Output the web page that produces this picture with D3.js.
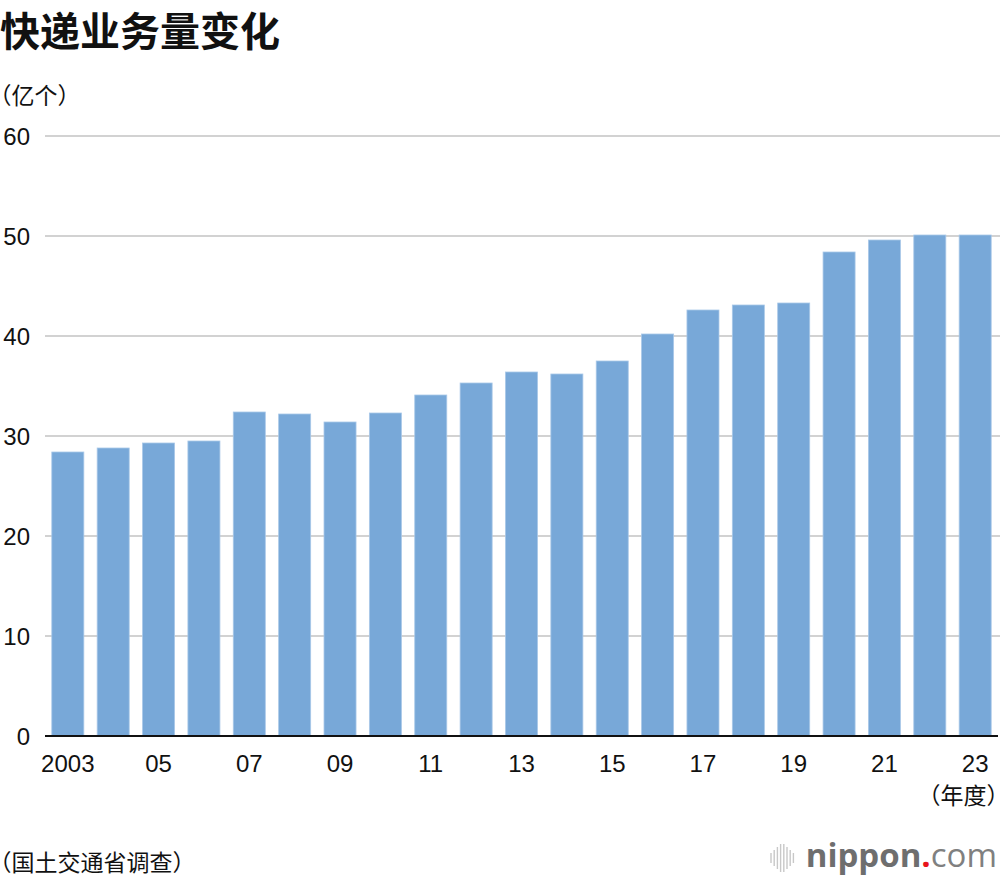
<!DOCTYPE html>
<html><head><meta charset="utf-8">
<script src="https://cdn.jsdelivr.net/npm/d3@7"></script>
<style>
body{margin:0;background:#fff;}
svg{display:block;}
.cj{font-family:'Noto Sans CJK SC', sans-serif;font-feature-settings:"halt" 1;}
</style></head>
<body>
<svg id="chart" width="1000" height="880"></svg>
<script>
const years = [2003,2004,2005,2006,2007,2008,2009,2010,2011,2012,2013,2014,2015,2016,2017,2018,2019,2020,2021,2022,2023];
const values = [28.4,28.8,29.3,29.5,32.4,32.2,31.4,32.3,34.1,35.3,36.4,36.2,37.5,40.2,42.6,43.1,43.3,48.4,49.6,50.1,50.1];
const yTicks = [0,10,20,30,40,50,60];
const xTickLabels = {2003:"2003",2005:"05",2007:"07",2009:"09",2011:"11",2013:"13",2015:"15",2017:"17",2019:"19",2021:"21",2023:"23"};

const svg = d3.select("#chart");
const cjk = "'Noto Sans CJK SC', sans-serif";
const num = "'Liberation Sans', Arial, sans-serif";

const x = d3.scaleBand().domain(years).range([45, 998]).paddingInner(0.294).paddingOuter(0.15);
const y = d3.scaleLinear().domain([0, 60]).range([736, 136]);

// gridlines
svg.append("g").selectAll("line").data(yTicks.filter(d => d > 0)).join("line")
  .attr("x1", 45).attr("x2", 1000)
  .attr("y1", d => y(d)).attr("y2", d => y(d))
  .attr("stroke", "#d2d2d2").attr("stroke-width", 2);

// y labels
svg.append("g").selectAll("text").data(yTicks).join("text")
  .attr("x", 30).attr("y", d => y(d)).attr("dy", "0.36em")
  .attr("text-anchor", "end")
  .style("font-family", num).style("font-size", "24px").attr("fill", "#111")
  .text(d => d);

// bars
svg.append("g").selectAll("rect").data(years).join("rect")
  .attr("x", d => x(d)).attr("width", x.bandwidth())
  .attr("y", (d, i) => y(values[i])).attr("height", (d, i) => y(0) - y(values[i]))
  .attr("fill", "#78a8d8").attr("stroke", "#a9c8e8").attr("stroke-width", 0.8);

// baseline
svg.append("line").attr("x1", 45).attr("x2", 998).attr("y1", y(0)).attr("y2", y(0))
  .attr("stroke", "#111").attr("stroke-width", 2);

// x labels
svg.append("g").selectAll("text").data(years.filter(d => xTickLabels[d])).join("text")
  .attr("x", d => x(d) + x.bandwidth() / 2).attr("y", 772)
  .attr("text-anchor", "middle")
  .style("font-family", num).style("font-size", "24px").attr("fill", "#111")
  .text(d => xTickLabels[d]);

svg.append("text").attr("class", "cj").attr("x", 998).attr("y", 804).attr("text-anchor", "end")
  .style("font-size", "23px").attr("fill", "#111").text("（年度）");

// title
svg.append("text").attr("x", 0).attr("y", 46)
  .style("font-family", cjk).style("font-size", "40px").style("font-weight", "700").attr("fill", "#111")
  .text("快递业务量变化");

svg.append("text").attr("class", "cj").attr("x", 0).attr("y", 104)
  .style("font-size", "23px").attr("fill", "#111").text("（亿个）");

svg.append("text").attr("class", "cj").attr("x", 0).attr("y", 871)
  .style("font-size", "23px").attr("fill", "#111").text("（国土交通省调查）");

// logo
const logo = svg.append("g");
const bars = [10, 16, 22, 28, 28, 22, 16, 10];
logo.selectAll("line").data(bars).join("line")
  .attr("x1", (d, i) => 771 + i * 3.2).attr("x2", (d, i) => 771 + i * 3.2)
  .attr("y1", d => 858 - d / 2).attr("y2", d => 858 + d / 2)
  .attr("stroke", "#c8c8c8").attr("stroke-width", 1.4);
const lt = logo.append("text").attr("x", 997).attr("y", 867).attr("text-anchor", "end")
  .style("font-family", "'Open Sans', sans-serif").style("font-size", "33px").attr("fill", "#6e6e6e");
lt.append("tspan").style("font-weight", "700").text("nippon");
lt.append("tspan").attr("fill", "#e8141c").style("font-weight", "700").text(".");
lt.append("tspan").style("font-weight", "400").attr("fill", "#808080").text("com");
</script>
</body></html>
